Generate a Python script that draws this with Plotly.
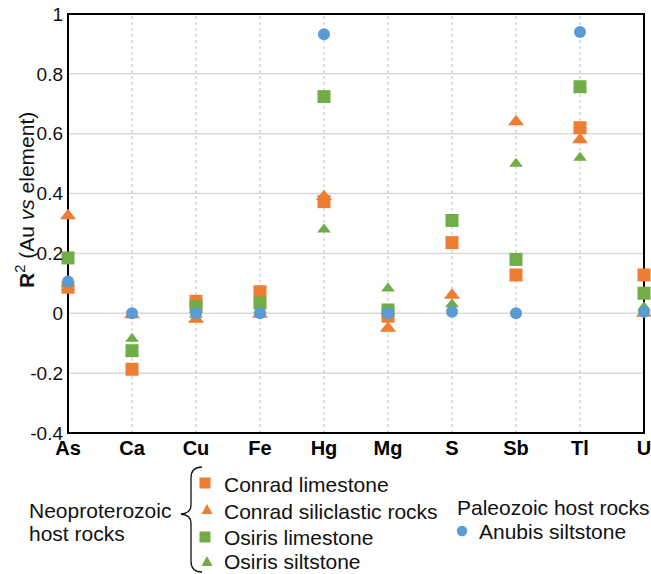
import plotly.graph_objects as go

elements = ["As", "Ca", "Cu", "Fe", "Hg", "Mg", "S", "Sb", "Tl", "U"]
conrad_limestone = [0.087, -0.187, 0.040, 0.072, 0.373, -0.010, 0.236, 0.128, 0.620, 0.128]
conrad_siliciclastic = [0.326, -0.005, -0.020, -0.003, 0.390, -0.050, 0.060, 0.640, 0.580, 0.000]
osiris_limestone = [0.185, -0.125, 0.022, 0.034, 0.724, 0.011, 0.310, 0.180, 0.757, 0.067]
osiris_siltstone = [0.100, -0.085, -0.005, 0.010, 0.280, 0.083, 0.030, 0.500, 0.520, 0.020]
anubis_siltstone = [0.106, 0.000, 0.000, 0.000, 0.932, 0.000, 0.005, 0.000, 0.940, 0.005]

y_ticks = [-0.4, -0.2, 0, 0.2, 0.4, 0.6, 0.8, 1]
y_ticktext = ["-0.4", "-0.2", "0", "0.2", "0.4", "0.6", "0.8", "1"]

ORANGE = "#ED7D31"
GREEN = "#70AD47"
BLUE = "#5B9BD5"
FONT = "Liberation Sans, Arial, sans-serif"

W, H = 651, 574
L, R, T, B = 68, 644, 14, 433


def px(x):
    return x / W


def py(y):
    return 1 - y / H


fig = go.Figure()

series = [
    ("Conrad limestone", conrad_limestone, "square", ORANGE, 13),
    ("Conrad siliclastic rocks", conrad_siliciclastic, "triangle-up", ORANGE, 14),
    ("Osiris limestone", osiris_limestone, "square", GREEN, 13),
    ("Osiris siltstone", osiris_siltstone, "triangle-up", GREEN, 12),
    ("Anubis siltstone", anubis_siltstone, "circle", BLUE, 12),
]
for name, vals, sym, col, sz in series:
    fig.add_trace(go.Scatter(
        x=elements, y=vals, mode="markers", name=name, cliponaxis=False,
        marker=dict(symbol=sym, color=col, size=sz, line=dict(width=0)),
        showlegend=False))

shapes = []
# gridlines (inner only) and frame, all beneath the markers
for v in y_ticks[1:-1]:
    shapes.append(dict(type="line", xref="x domain", yref="y", x0=0, x1=1, y0=v, y1=v,
                       line=dict(color="#d9d9d9", width=1.5), layer="below"))
for e in elements[1:-1]:
    shapes.append(dict(type="line", xref="x", yref="y domain", x0=e, x1=e, y0=0, y1=1,
                       line=dict(color="#c0c0c0", width=1, dash="dot"), layer="below"))
shapes.append(dict(type="rect", xref="x domain", yref="y domain", x0=0, x1=1, y0=0, y1=1,
                   line=dict(color="black", width=2), layer="below"))


def sq(cx, cy, s, col):
    shapes.append(dict(type="rect", xref="paper", yref="paper",
                       x0=px(cx - s / 2), x1=px(cx + s / 2), y0=py(cy + s / 2), y1=py(cy - s / 2),
                       fillcolor=col, line=dict(width=0), layer="above"))


def tri(cx, cy, w, h, col):
    path = "M %f,%f L %f,%f L %f,%f Z" % (px(cx - w / 2), py(cy + h / 2), px(cx + w / 2), py(cy + h / 2),
                                          px(cx), py(cy - h / 2))
    shapes.append(dict(type="path", xref="paper", yref="paper", path=path,
                       fillcolor=col, line=dict(width=0), layer="above"))


def circ(cx, cy, d, col):
    shapes.append(dict(type="circle", xref="paper", yref="paper",
                       x0=px(cx - d / 2), x1=px(cx + d / 2), y0=py(cy + d / 2), y1=py(cy - d / 2),
                       fillcolor=col, line=dict(width=0), layer="above"))


sq(205, 483, 11, ORANGE)
tri(207, 509, 11, 10, ORANGE)
sq(205, 537, 11, GREEN)
tri(207, 561, 11, 10, GREEN)
circ(462, 531, 10.5, BLUE)

# brace
pts = [(202, 467), (191, 467), (191, 478), (191, 505), (191, 513), (181, 514),
       (191, 515), (191, 523), (191, 561), (191, 572), (202, 572)]
P = [(px(a), py(b)) for a, b in pts]
brace = ("M {0[0]},{0[1]} Q {1[0]},{1[1]} {2[0]},{2[1]} L {3[0]},{3[1]} "
         "Q {4[0]},{4[1]} {5[0]},{5[1]} Q {6[0]},{6[1]} {7[0]},{7[1]} "
         "L {8[0]},{8[1]} Q {9[0]},{9[1]} {10[0]},{10[1]}").format(*P)
shapes.append(dict(type="path", xref="paper", yref="paper", path=brace,
                   line=dict(color="#111111", width=1.3), layer="above"))

ann = []


def txt(x, y, s, size=21, xanchor="left", **kw):
    ann.append(dict(x=px(x), y=py(y), xref="paper", yref="paper", text=s, showarrow=False,
                    xanchor=xanchor, yanchor="middle",
                    font=dict(family=FONT, size=size, color="#111111"), **kw))


txt(222, 484, "Conrad limestone")
txt(222, 511, "Conrad siliclastic rocks")
txt(222, 537, "Osiris limestone")
txt(222, 561, "Osiris siltstone")
txt(27, 510, "Neoproterozoic")
txt(27, 533, "host rocks")
txt(455, 507, "Paleozoic host rocks")
txt(477, 531, "Anubis siltstone")
txt(25, 200, "<b>R</b><sup>2</sup> (Au <i>vs</i> element)", xanchor="center", textangle=-90)

fig.update_layout(
    width=W, height=H,
    margin=dict(l=0, r=0, t=0, b=0),
    paper_bgcolor="white", plot_bgcolor="rgba(0,0,0,0)",
    annotations=ann, shapes=shapes,
    xaxis=dict(
        type="category", categoryorder="array", categoryarray=elements,
        domain=[L / W, R / W], range=[0, 9], automargin=False,
        showgrid=False, showline=False, ticks="", ticklabelstandoff=1,
        tickfont=dict(family=FONT, size=20, color="black"),
        tickprefix="<b>", ticksuffix="</b>", zeroline=False, fixedrange=True),
    yaxis=dict(
        domain=[(H - B) / H, (H - T) / H], range=[-0.4, 1], automargin=False,
        tickvals=y_ticks, ticktext=y_ticktext, ticklabelstandoff=4,
        showgrid=False, showline=False, zeroline=False, ticks="",
        tickfont=dict(family=FONT, size=19, color="#111111"), fixedrange=True),
)

fig.write_html("out.html", config={"displayModeBar": False},
               post_script="document.body.style.margin='0px';")
